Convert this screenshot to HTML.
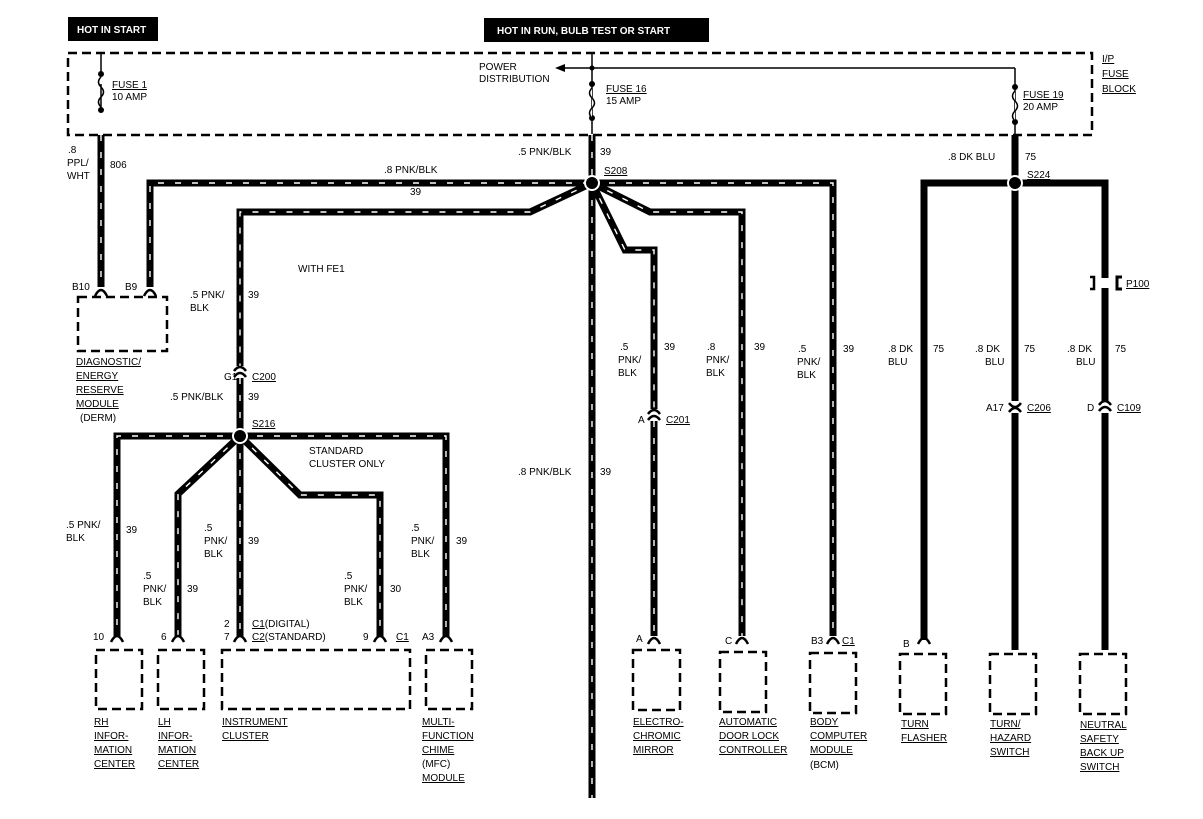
<!DOCTYPE html>
<html><head><meta charset="utf-8"><style>
html,body{margin:0;padding:0;background:#fff;width:1203px;height:819px;overflow:hidden}
text{font-family:"Liberation Sans",sans-serif;font-size:10px;fill:#000}
.u{text-decoration:underline}
</style></head><body>
<svg width="1203" height="819" viewBox="0 0 1203 819" xmlns="http://www.w3.org/2000/svg">
<defs>
<style>
.w{fill:none;stroke:#000;stroke-width:7;stroke-linejoin:miter}
.d{fill:none;stroke:#fff;stroke-width:1.4;stroke-dasharray:6 11}
.s{fill:none;stroke:#000;stroke-width:7;stroke-linejoin:miter}
.box{fill:none;stroke:#000;stroke-width:2.5;stroke-dasharray:9 5}
.thin{fill:none;stroke:#000;stroke-width:1.5}
.pin{fill:none;stroke:#000;stroke-width:2.5}
</style>
<path id="w1" d="M101 135 V287"/>
<path id="w2" d="M592 135 V183 H150 V287"/>
<path id="w3" d="M592 183 L530 212 H240 V366"/>
<path id="w4" d="M240 378 V436"/>
<path id="w5" d="M592 183 V798"/>
<path id="w6" d="M592 183 L625 250 H654 V409"/>
<path id="w7" d="M654 421 V636"/>
<path id="w8" d="M592 183 L650 212 H742 V636"/>
<path id="w9" d="M592 183 H833 V636"/>
<path id="w10" d="M240 436 H117 V636"/>
<path id="w11" d="M240 436 L178 494 V636"/>
<path id="w12" d="M240 436 V636"/>
<path id="w13" d="M240 436 L300 495 H380 V636"/>
<path id="w14" d="M240 436 H446 V636"/>
</defs>

<!-- header boxes -->
<rect x="68" y="17" width="90" height="24" fill="#000"/>
<text x="77" y="33" style="fill:#fff;font-weight:bold;font-size:10px">HOT IN START</text>
<rect x="484" y="18" width="225" height="24" fill="#000"/>
<text x="497" y="34" style="fill:#fff;font-weight:bold;font-size:10px">HOT IN RUN, BULB TEST OR START</text>

<!-- fuse block -->
<rect x="68" y="53" width="1024" height="82" class="box"/>
<text x="1102" y="62" class="u">I/P</text>
<text x="1102" y="77" class="u">FUSE</text>
<text x="1102" y="92" class="u">BLOCK</text>

<!-- fuse 1 -->
<path d="M101 53 V72 M101 84 V110" class="thin"/>
<circle cx="101" cy="74" r="3"/><circle cx="101" cy="110" r="3"/>
<path d="M101 77 q-5 5 0 10 q5 5 0 10 q-5 5 0 10" class="thin"/>
<text x="112" y="88" class="u">FUSE 1</text>
<text x="112" y="100">10 AMP</text>

<!-- fuse 16 + power distribution -->
<path d="M592 53 V134" class="thin"/>
<circle cx="592" cy="68" r="2.5"/>
<circle cx="592" cy="84" r="3"/><circle cx="592" cy="118" r="3"/>
<path d="M592 88 q-5 5 0 10 q5 5 0 10 q-5 5 0 10" fill="#fff" stroke="#000" stroke-width="1.5"/>
<path d="M1015 68 H560" class="thin"/>
<path d="M555 68 L565 64 L565 72 Z"/>
<text x="479" y="70">POWER</text>
<text x="479" y="82">DISTRIBUTION</text>
<text x="606" y="92" class="u">FUSE 16</text>
<text x="606" y="104">15 AMP</text>

<!-- fuse 19 -->
<path d="M1015 68 V135" class="thin"/>
<circle cx="1015" cy="87" r="3"/><circle cx="1015" cy="122" r="3"/>
<path d="M1015 91 q-5 5 0 10 q5 5 0 10 q-5 5 0 10" fill="#fff" stroke="#000" stroke-width="1.5"/>
<text x="1023" y="98" class="u">FUSE 19</text>
<text x="1023" y="110">20 AMP</text>

<g class="w">
<use href="#w1"/><use href="#w2"/><use href="#w3"/><use href="#w4"/><use href="#w5"/><use href="#w6"/><use href="#w7"/><use href="#w8"/><use href="#w9"/><use href="#w10"/><use href="#w11"/><use href="#w12"/><use href="#w13"/><use href="#w14"/>
</g>
<g class="d">
<use href="#w1"/><use href="#w2"/><use href="#w3"/><use href="#w4"/><use href="#w5"/><use href="#w6"/><use href="#w7"/><use href="#w8"/><use href="#w9"/><use href="#w10"/><use href="#w11"/><use href="#w12"/><use href="#w13"/><use href="#w14"/>
</g>

<!-- solid DK BLU wires -->
<path d="M1015 135 V183 M924 640 V183 H1105 V278 M1105 288 V401 M1105 413 V650 M1015 183 V401 M1015 413 V650" class="s"/>

<!-- splices -->
<circle cx="592" cy="183" r="7" fill="#000" stroke="#fff" stroke-width="2"/>
<circle cx="240" cy="436" r="7" fill="#000" stroke="#fff" stroke-width="2"/>
<circle cx="1015" cy="183" r="7" fill="#000" stroke="#fff" stroke-width="2"/>
<text x="604" y="174" class="u">S208</text>
<text x="252" y="427" class="u">S216</text>
<text x="1027" y="178" class="u">S224</text>

<!-- P100 -->
<path d="M1090 277 h4 v12 h-4" fill="none" stroke="#000" stroke-width="2.5"/>
<path d="M1122 277 h-5 v12 h5" fill="none" stroke="#000" stroke-width="3"/>
<text x="1126" y="287" class="u">P100</text>

<!-- inline connectors -->
<g class="pin">
<path d="M234 377 Q240 369 246 377 M234 371 Q240 363 246 371"/>
<path d="M648 420 Q654 412 660 420 M648 414 Q654 406 660 414"/>
<path d="M1009 403 Q1015 411 1021 403 M1009 412 Q1015 404 1021 412"/>
<path d="M1099 411 Q1105 403 1111 411 M1099 405 Q1105 397 1111 405"/>
</g>
<text x="224" y="380">G1</text><text x="252" y="380" class="u">C200</text>
<text x="638" y="423">A</text><text x="666" y="423" class="u">C201</text>
<text x="986" y="411">A17</text><text x="1027" y="411" class="u">C206</text>
<text x="1087" y="411">D</text><text x="1117" y="411" class="u">C109</text>

<!-- end pins -->
<g class="pin">
<path d="M95 296 Q101 284 107 296"/>
<path d="M144 296 Q150 284 156 296"/>
<path d="M111 642 Q117 630 123 642"/>
<path d="M172 642 Q178 630 184 642"/>
<path d="M234 642 Q240 630 246 642"/>
<path d="M374 642 Q380 630 386 642"/>
<path d="M440 642 Q446 630 452 642"/>
<path d="M648 644 Q654 632 660 644"/>
<path d="M736 644 Q742 632 748 644"/>
<path d="M827 644 Q833 632 839 644"/>
<path d="M918 644 Q924 632 930 644"/>
</g>

<!-- module boxes -->
<rect x="78" y="297" width="89" height="54" class="box"/>
<rect x="96" y="650" width="46" height="59" class="box"/>
<rect x="158" y="650" width="46" height="59" class="box"/>
<rect x="222" y="650" width="188" height="59" class="box"/>
<rect x="426" y="650" width="46" height="59" class="box"/>
<rect x="633" y="650" width="47" height="60" class="box"/>
<rect x="720" y="652" width="46" height="60" class="box"/>
<rect x="810" y="653" width="46" height="60" class="box"/>
<rect x="900" y="654" width="46" height="60" class="box"/>
<rect x="990" y="654" width="46" height="60" class="box"/>
<rect x="1080" y="654" width="46" height="60" class="box"/>

<!-- wire labels -->
<text x="68" y="153">.8</text><text x="67" y="166">PPL/</text><text x="67" y="179">WHT</text>
<text x="110" y="168">806</text>
<text x="384" y="173">.8 PNK/BLK</text><text x="410" y="195">39</text>
<text x="518" y="155">.5 PNK/BLK</text><text x="600" y="155">39</text>
<text x="298" y="272">WITH FE1</text>
<text x="190" y="298">.5 PNK/</text><text x="190" y="311">BLK</text><text x="248" y="298">39</text>
<text x="170" y="400">.5 PNK/BLK</text><text x="248" y="400">39</text>
<text x="309" y="454">STANDARD</text><text x="309" y="467">CLUSTER ONLY</text>
<text x="518" y="475">.8 PNK/BLK</text><text x="600" y="475">39</text>
<text x="72" y="290">B10</text><text x="125" y="290">B9</text>
<text x="76" y="365" class="u">DIAGNOSTIC/</text>
<text x="76" y="379" class="u">ENERGY</text>
<text x="76" y="393" class="u">RESERVE</text>
<text x="76" y="407" class="u">MODULE</text>
<text x="80" y="421">(DERM)</text>

<text x="66" y="528">.5 PNK/</text><text x="66" y="541">BLK</text><text x="126" y="533">39</text>
<text x="143" y="579">.5</text><text x="143" y="592">PNK/</text><text x="143" y="605">BLK</text><text x="187" y="592">39</text>
<text x="204" y="531">.5</text><text x="204" y="544">PNK/</text><text x="204" y="557">BLK</text><text x="248" y="544">39</text>
<text x="344" y="579">.5</text><text x="344" y="592">PNK/</text><text x="344" y="605">BLK</text><text x="390" y="592">30</text>
<text x="411" y="531">.5</text><text x="411" y="544">PNK/</text><text x="411" y="557">BLK</text><text x="456" y="544">39</text>

<text x="620" y="350">.5</text><text x="618" y="363">PNK/</text><text x="618" y="376">BLK</text><text x="664" y="350">39</text>
<text x="707" y="350">.8</text><text x="706" y="363">PNK/</text><text x="706" y="376">BLK</text><text x="754" y="350">39</text>
<text x="798" y="352">.5</text><text x="797" y="365">PNK/</text><text x="797" y="378">BLK</text><text x="843" y="352">39</text>
<text x="948" y="160">.8 DK BLU</text><text x="1025" y="160">75</text>
<text x="888" y="352">.8 DK</text><text x="888" y="365">BLU</text><text x="933" y="352">75</text>
<text x="975" y="352">.8 DK</text><text x="985" y="365">BLU</text><text x="1024" y="352">75</text>
<text x="1067" y="352">.8 DK</text><text x="1076" y="365">BLU</text><text x="1115" y="352">75</text>

<!-- bottom pin labels -->
<text x="93" y="640">10</text>
<text x="161" y="640">6</text>
<text x="224" y="627">2</text><text x="252" y="627"><tspan class="u">C1</tspan>(DIGITAL)</text>
<text x="224" y="640">7</text><text x="252" y="640"><tspan class="u">C2</tspan>(STANDARD)</text>
<text x="363" y="640">9</text><text x="396" y="640" class="u">C1</text>
<text x="422" y="640">A3</text>
<text x="636" y="642">A</text>
<text x="725" y="644">C</text>
<text x="811" y="644">B3</text><text x="842" y="644" class="u">C1</text>
<text x="903" y="647">B</text>

<!-- module labels -->
<text x="94" y="725" class="u">RH</text><text x="94" y="739" class="u">INFOR-</text><text x="94" y="753" class="u">MATION</text><text x="94" y="767" class="u">CENTER</text>
<text x="158" y="725" class="u">LH</text><text x="158" y="739" class="u">INFOR-</text><text x="158" y="753" class="u">MATION</text><text x="158" y="767" class="u">CENTER</text>
<text x="222" y="725" class="u">INSTRUMENT</text><text x="222" y="739" class="u">CLUSTER</text>
<text x="422" y="725" class="u">MULTI-</text><text x="422" y="739" class="u">FUNCTION</text><text x="422" y="753" class="u">CHIME</text><text x="422" y="767">(MFC)</text><text x="422" y="781" class="u">MODULE</text>
<text x="633" y="725" class="u">ELECTRO-</text><text x="633" y="739" class="u">CHROMIC</text><text x="633" y="753" class="u">MIRROR</text>
<text x="719" y="725" class="u">AUTOMATIC</text><text x="719" y="739" class="u">DOOR LOCK</text><text x="719" y="753" class="u">CONTROLLER</text>
<text x="810" y="725" class="u">BODY</text><text x="810" y="739" class="u">COMPUTER</text><text x="810" y="753" class="u">MODULE</text><text x="810" y="768">(BCM)</text>
<text x="901" y="727" class="u">TURN</text><text x="901" y="741" class="u">FLASHER</text>
<text x="990" y="727" class="u">TURN/</text><text x="990" y="741" class="u">HAZARD</text><text x="990" y="755" class="u">SWITCH</text>
<text x="1080" y="728" class="u">NEUTRAL</text><text x="1080" y="742" class="u">SAFETY</text><text x="1080" y="756" class="u">BACK UP</text><text x="1080" y="770" class="u">SWITCH</text>
</svg>
</body></html>
